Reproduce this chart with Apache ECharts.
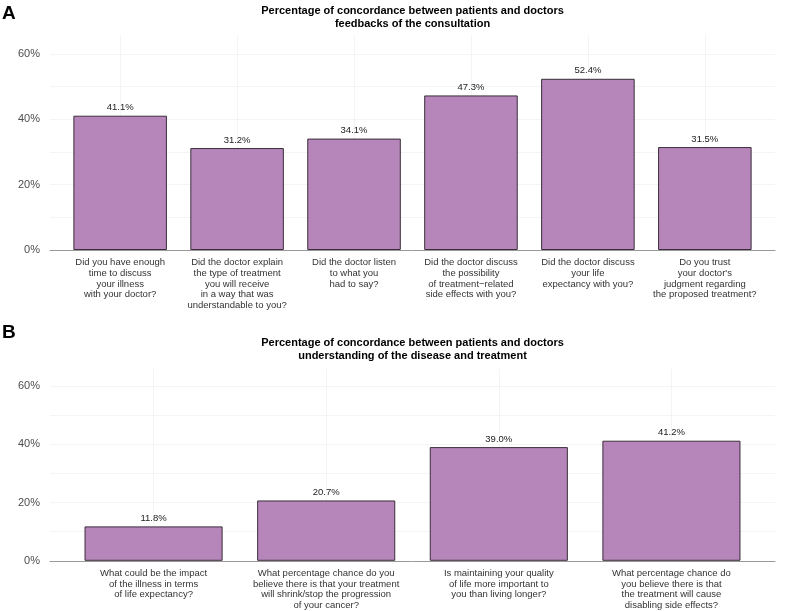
<!DOCTYPE html>
<html><head><meta charset="utf-8">
<script src="https://cdn.jsdelivr.net/npm/echarts@6/dist/echarts.min.js"></script>
<style>html,body{margin:0;padding:0;background:#fff}#c{width:787px;height:611px}</style>
</head><body><div id="c"></div><script>
const panelLetters = ['A', 'B'];
const titleA = 'Percentage of concordance between patients and doctors\nfeedbacks of the consultation';
const titleB = 'Percentage of concordance between patients and doctors\nunderstanding of the disease and treatment';
const categoriesA = [
  'Did you have enough\ntime to discuss\nyour illness\nwith your doctor?',
  'Did the doctor explain\nthe type of treatment\nyou will receive\nin a way that was\nunderstandable to you?',
  'Did the doctor listen\nto what you\nhad to say?',
  'Did the doctor discuss\nthe possibility\nof treatment\u2212related\nside effects with you?',
  'Did the doctor discuss\nyour life\nexpectancy with you?',
  'Do you trust\nyour doctor\'s\njudgment regarding\nthe proposed treatment?'
];
const valuesA = [41.1, 31.2, 34.1, 47.3, 52.4, 31.5];
const categoriesB = [
  'What could be the impact\nof the illness in terms\nof life expectancy?',
  'What percentage chance do you\nbelieve there is that your treatment\nwill shrink/stop the progression\nof your cancer?',
  'Is maintaining your quality\nof life more important to\nyou than living longer?',
  'What percentage chance do\nyou believe there is that\nthe treatment will cause\ndisabling side effects?'
];
const valuesB = [11.8, 20.7, 39.0, 41.2];
const yMax = 65.8;
const yLabelStep = 20;

const FONT = '"Liberation Sans", Arial, Helvetica, sans-serif';
const GRID_COLOR = '#ececec';
const BAR_COLOR = '#b686bb';

function xAxisFor(cats, gridIndex) {
  const pos = cats.map((c, i) => i + 1);
  return {
    type: 'value', gridIndex: gridIndex, min: 0.4, max: cats.length + 0.6,
    axisLine: { show: true, lineStyle: { color: '#999', width: 1 } },
    axisTick: { show: false, customValues: pos },
    axisLabel: {
      customValues: pos, margin: 7, color: '#333', fontSize: 9.5, lineHeight: 10.8,
      fontFamily: FONT, align: 'center', verticalAlign: 'top',
      formatter: v => cats[Math.round(v) - 1] || ''
    },
    splitLine: { show: true, showMinLine: true, showMaxLine: true, lineStyle: { color: GRID_COLOR, width: 0.6 } }
  };
}
function yAxisFor(gridIndex) {
  return {
    type: 'value', gridIndex: gridIndex, min: 0, max: yMax, interval: 10,
    axisLine: { show: false }, axisTick: { show: false },
    axisLabel: {
      margin: 10, color: '#4d4d4d', fontSize: 11, fontFamily: FONT,
      formatter: v => (Math.abs(v % yLabelStep) < 1e-9 && v <= 60) ? v + '%' : ''
    },
    splitLine: { show: true, showMaxLine: false, lineStyle: { color: GRID_COLOR, width: 0.6 } }
  };
}
function barSeries(vals, idx) {
  return {
    type: 'bar', xAxisIndex: idx, yAxisIndex: idx, barWidth: '80%',
    data: vals.map((v, i) => [i + 1, v]),
    itemStyle: { color: BAR_COLOR, borderColor: '#3a2d3a', borderWidth: 1 },
    label: {
      show: true, position: 'top', distance: 3, color: '#222', fontSize: 9.5, fontFamily: FONT,
      formatter: p => p.value[1].toFixed(1) + '%'
    },
    silent: true, animation: false
  };
}
const chart = echarts.init(document.getElementById('c'), null, { renderer: 'canvas' });
chart.setOption({
  backgroundColor: '#fff',
  animation: false,
  title: [
    { text: panelLetters[0], left: 2, top: 4, padding: 0, textStyle: { fontSize: 19, fontWeight: 'bold', color: '#000', fontFamily: FONT } },
    { text: panelLetters[1], left: 2, top: 323, padding: 0, textStyle: { fontSize: 19, fontWeight: 'bold', color: '#000', fontFamily: FONT } },
    { text: titleA, left: 412.5, top: 4, padding: 0, textAlign: 'center', textStyle: { fontSize: 11, fontWeight: 'bold', color: '#000', lineHeight: 13, fontFamily: FONT } },
    { text: titleB, left: 412.5, top: 336, padding: 0, textAlign: 'center', textStyle: { fontSize: 11, fontWeight: 'bold', color: '#000', lineHeight: 13, fontFamily: FONT } }
  ],
  grid: [
    { left: 50, right: 12, top: 35, height: 215 },
    { left: 50, right: 12, top: 369, height: 193 }
  ],
  xAxis: [xAxisFor(categoriesA, 0), xAxisFor(categoriesB, 1)],
  yAxis: [yAxisFor(0), yAxisFor(1)],
  series: [barSeries(valuesA, 0), barSeries(valuesB, 1)]
});
</script></body></html>
